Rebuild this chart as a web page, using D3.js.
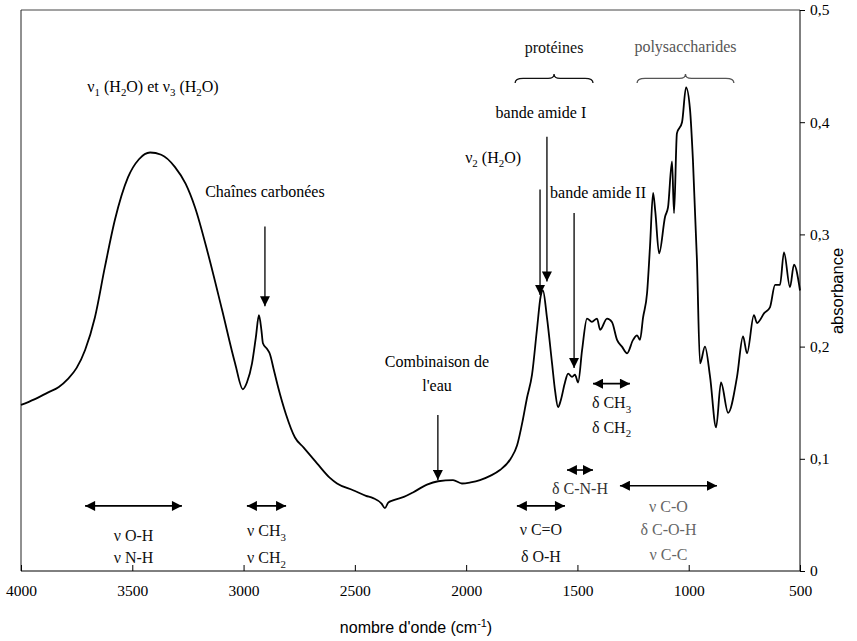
<!DOCTYPE html>
<html>
<head>
<meta charset="utf-8">
<script src="https://cdn.jsdelivr.net/npm/d3@7"></script>
<style>
  html, body { margin: 0; padding: 0; background: #fff; }
  svg { display: block; }
</style>
</head>
<body>
<svg id="chart" width="857" height="641"></svg>
<script>
// ---- Data (wavenumber in cm-1, absorbance) ----
const wavenumber = [4000,3940,3880,3830,3790,3750,3712,3668,3623,3578,3519,3470,3420,3370,3308,3260,3218,3160,3097,3038,3003,2985,2962,2945,2931,2920,2913,2895,2881,2865,2845,2810,2769,2730,2670,2612,2580,2508,2450,2418,2380,2365,2350,2329,2280,2239,2176,2126,2059,2019,1980,1938,1890,1848,1800,1771,1745,1727,1704,1682,1665,1655,1637,1614,1600,1587,1575,1556,1542,1524,1511,1497,1479,1457,1435,1412,1398,1367,1345,1322,1300,1277,1250,1232,1219,1205,1187,1174,1160,1150,1133,1106,1093,1075,1066,1053,1030,1012,994,981,963,949,927,904,877,855,823,783,756,738,707,693,660,635,612,590,572,545,527,500];
const absorbance = [0.148,0.153,0.159,0.164,0.171,0.181,0.197,0.226,0.271,0.313,0.351,0.367,0.373,0.371,0.360,0.345,0.324,0.283,0.233,0.185,0.162,0.168,0.185,0.208,0.228,0.215,0.203,0.198,0.193,0.180,0.164,0.140,0.119,0.110,0.096,0.083,0.078,0.072,0.067,0.065,0.060,0.056,0.061,0.063,0.066,0.070,0.077,0.080,0.081,0.078,0.079,0.081,0.085,0.090,0.100,0.112,0.135,0.154,0.175,0.215,0.245,0.250,0.226,0.185,0.160,0.146,0.152,0.168,0.176,0.173,0.175,0.168,0.197,0.225,0.222,0.225,0.215,0.225,0.222,0.206,0.200,0.194,0.206,0.210,0.206,0.226,0.248,0.289,0.337,0.320,0.283,0.316,0.324,0.365,0.319,0.390,0.400,0.431,0.411,0.366,0.277,0.185,0.200,0.173,0.128,0.168,0.141,0.173,0.209,0.194,0.228,0.221,0.230,0.235,0.255,0.255,0.284,0.253,0.273,0.250];

const xTicks = [4000,3500,3000,2500,2000,1500,1000,500];
const yTicks = [0,0.1,0.2,0.3,0.4,0.5];
const xTitle = "nombre d'onde (cm^{-1})";
const yTitle = "absorbance";

// Peak annotations: text lines at [wn, abs], arrow from [wn, abs1] down to [wn, abs2]
const peakLabels = [
  {lines:["ν_{1} (H_{2}O) et ν_{3} (H_{2}O)"], wn:3407, a:[0.427], anchor:"middle"},
  {lines:["Chaînes carbonées"], wn:2904, a:[0.333], anchor:"middle", arrow:[2904,0.307,0.236]},
  {lines:["Combinaison de","l'eau"], wn:2131, a:[0.182,0.160], anchor:"middle", arrow:[2127,0.139,0.081]},
  {lines:["ν_{2} (H_{2}O)"], wn:1879, a:[0.364], anchor:"middle", arrow:[1668,0.340,0.246]},
  {lines:["bande amide I"], wn:1664, a:[0.404], anchor:"middle", arrow:[1637,0.387,0.258]},
  {lines:["bande amide II"], wn:1623, a:[0.332], anchor:"start", arrow:[1515,0.319,0.181]}
];
// Group braces
const groups = [
  {label:"protéines", from:1780, to:1430, a:0.435, textA:0.462, color:"#111"},
  {label:"polysaccharides", from:1232, to:797, a:0.435, textA:0.463, color:"#555"}
];
// Vibration ranges: double arrow from wn0 to wn1 at absorbance a, text lines
const ranges = [
  {from:3712, to:3277, a:0.058, lines:["ν O-H","ν N-H"], ta:[0.027,0.007], color:"#111"},
  {from:2985, to:2809, a:0.058, lines:["ν CH_{3}","ν CH_{2}"], ta:[0.031,0.007], color:"#111"},
  {from:1772, to:1556, a:0.058, lines:["ν C=O","δ O-H"], ta:[0.032,0.008], color:"#111"},
  {from:1547, to:1430, a:0.090, lines:["δ C-N-H"], ta:[0.069], color:"#333"},
  {from:1430, to:1264, a:0.167, lines:["δ CH_{3}","δ CH_{2}"], ta:[0.145,0.123], color:"#111"},
  {from:1309, to:873, a:0.076, lines:["ν C-O","δ C-O-H","ν C-C"], ta:[0.053,0.032,0.010], color:"#666"}
];

// ---- Layout ----
const svg = d3.select("#chart");
const mLeft = 21, mRight = 800, mTop = 10, mBottom = 571;
const x = d3.scaleLinear().domain([4000, 500]).range([mLeft, mRight]);
const y = d3.scaleLinear().domain([0, 0.5]).range([mBottom, mTop]);
const serif = "'Liberation Serif','Times New Roman',serif";
const sans = "'Liberation Sans Narrow','Liberation Sans',Arial,sans-serif";
const fs = 16;

svg.append("rect").attr("width",857).attr("height",641).attr("fill","#fff");

const defs = svg.append("defs");
function marker(id, orient) {
  defs.append("marker").attr("id", id)
    .attr("viewBox","0 0 10 10").attr("refX",10).attr("refY",5)
    .attr("markerWidth",11).attr("markerHeight",10)
    .attr("markerUnits","userSpaceOnUse")
    .attr("orient", orient)
    .append("path").attr("d","M0,0L10,5L0,10Z").attr("fill","#000");
}
marker("head","auto");
marker("headStart","auto-start-reverse");

// rich text with sub/superscripts
function rich(textSel, str, size) {
  const re = /([_^])\{([^}]*)\}/g;
  let last = 0, m, shift = 0;
  const parts = [];
  while ((m = re.exec(str)) !== null) {
    if (m.index > last) parts.push({t:str.slice(last, m.index), k:""});
    parts.push({t:m[2], k:m[1]});
    last = re.lastIndex;
  }
  if (last < str.length) parts.push({t:str.slice(last), k:""});
  parts.forEach(p => {
    let target = p.k === "_" ? size*0.28 : p.k === "^" ? -size*0.38 : 0;
    const ts = textSel.append("tspan").text(p.t);
    if (target - shift !== 0) ts.attr("dy", target - shift);
    if (p.k) ts.attr("font-size", size*0.68);
    shift = target;
  });
}

// ---- Axes frame ----
svg.append("line").attr("x1",mLeft).attr("x2",mRight).attr("y1",mTop).attr("y2",mTop)
  .attr("stroke","#444").attr("stroke-width",1);
svg.append("line").attr("x1",mLeft).attr("x2",mLeft).attr("y1",mTop).attr("y2",mBottom)
  .attr("stroke","#222").attr("stroke-width",1);

const xAxis = svg.append("g").attr("transform",`translate(0,${mBottom})`)
  .call(d3.axisBottom(x).tickValues(xTicks).tickSize(-6).tickFormat(d3.format("d")).tickPadding(14));
xAxis.select(".domain").attr("stroke","#000").attr("d",`M${mLeft},0H${mRight}`);
xAxis.selectAll(".tick line").attr("stroke","#000");
xAxis.selectAll(".tick text").attr("font-family",serif).attr("font-size",15.5).attr("fill","#000");

const yAxis = svg.append("g").attr("transform",`translate(${mRight},0)`)
  .call(d3.axisRight(y).tickValues(yTicks).tickSize(5).tickPadding(5)
    .tickFormat(d => d === 0 ? "0" : d3.format(".1f")(d).replace(".", ",")));
yAxis.select(".domain").attr("stroke","#000").attr("d",`M0,${mTop}V${mBottom}`);
yAxis.selectAll(".tick line").attr("stroke","#000");
yAxis.selectAll(".tick text").attr("font-family",serif).attr("font-size",15.5).attr("fill","#000");

// axis titles
const xt = svg.append("text").attr("x", 416).attr("y", 633).attr("text-anchor","middle")
  .attr("font-family",sans).attr("font-size",16).attr("fill","#000");
rich(xt, xTitle, 16);
svg.append("text").attr("transform",`translate(843,291) rotate(-90)`).attr("text-anchor","middle")
  .attr("font-family",sans).attr("font-size",16.5).attr("fill","#000").text(yTitle);

// ---- Spectrum ----
const pts = wavenumber.map((w,i) => [w, absorbance[i]]);
svg.append("path").datum(pts)
  .attr("fill","none").attr("stroke","#000").attr("stroke-width",1.8)
  .attr("stroke-linejoin","round")
  .attr("d", d3.line().x(d => x(d[0])).y(d => y(d[1])).curve(d3.curveMonotoneX));

// ---- Peak labels & arrows ----
peakLabels.forEach(p => {
  p.lines.forEach((ln, i) => {
    const t = svg.append("text").attr("x", x(p.wn)).attr("y", y(p.a[i]))
      .attr("text-anchor", p.anchor).attr("font-family", serif).attr("font-size", fs).attr("fill","#000");
    rich(t, ln, fs);
  });
  if (p.arrow) {
    svg.append("line").attr("x1", x(p.arrow[0])).attr("x2", x(p.arrow[0]))
      .attr("y1", y(p.arrow[1])).attr("y2", y(p.arrow[2]))
      .attr("stroke","#000").attr("stroke-width",1.3).attr("marker-end","url(#head)");
  }
});

// ---- Group braces ----
groups.forEach(g => {
  const x0 = x(g.from), x1 = x(g.to), xm = (x0 + x1) / 2, yb = y(g.a), h = 9;
  const d = `M${x0},${yb} Q${x0},${yb-h/2} ${x0+8},${yb-h/2} L${xm-6},${yb-h/2} Q${xm},${yb-h/2} ${xm},${yb-h}` +
            ` Q${xm},${yb-h/2} ${xm+6},${yb-h/2} L${x1-8},${yb-h/2} Q${x1},${yb-h/2} ${x1},${yb}`;
  svg.append("path").attr("d", d).attr("fill","none").attr("stroke", g.color).attr("stroke-width",1.3);
  svg.append("text").attr("x", xm).attr("y", y(g.textA)).attr("text-anchor","middle")
    .attr("font-family", serif).attr("font-size",fs).attr("fill", g.color).text(g.label);
});

// ---- Vibration ranges ----
ranges.forEach(r => {
  svg.append("line").attr("x1", x(r.from)).attr("x2", x(r.to))
    .attr("y1", y(r.a)).attr("y2", y(r.a))
    .attr("stroke","#000").attr("stroke-width",1.6)
    .attr("marker-start","url(#headStart)").attr("marker-end","url(#head)");
  const cx = (x(r.from) + x(r.to)) / 2;
  r.lines.forEach((ln, i) => {
    const t = svg.append("text").attr("x", cx).attr("y", y(r.ta[i])).attr("text-anchor","middle")
      .attr("font-family", serif).attr("font-size",fs).attr("fill", r.color);
    rich(t, ln, fs);
  });
});
</script>
</body>
</html>
